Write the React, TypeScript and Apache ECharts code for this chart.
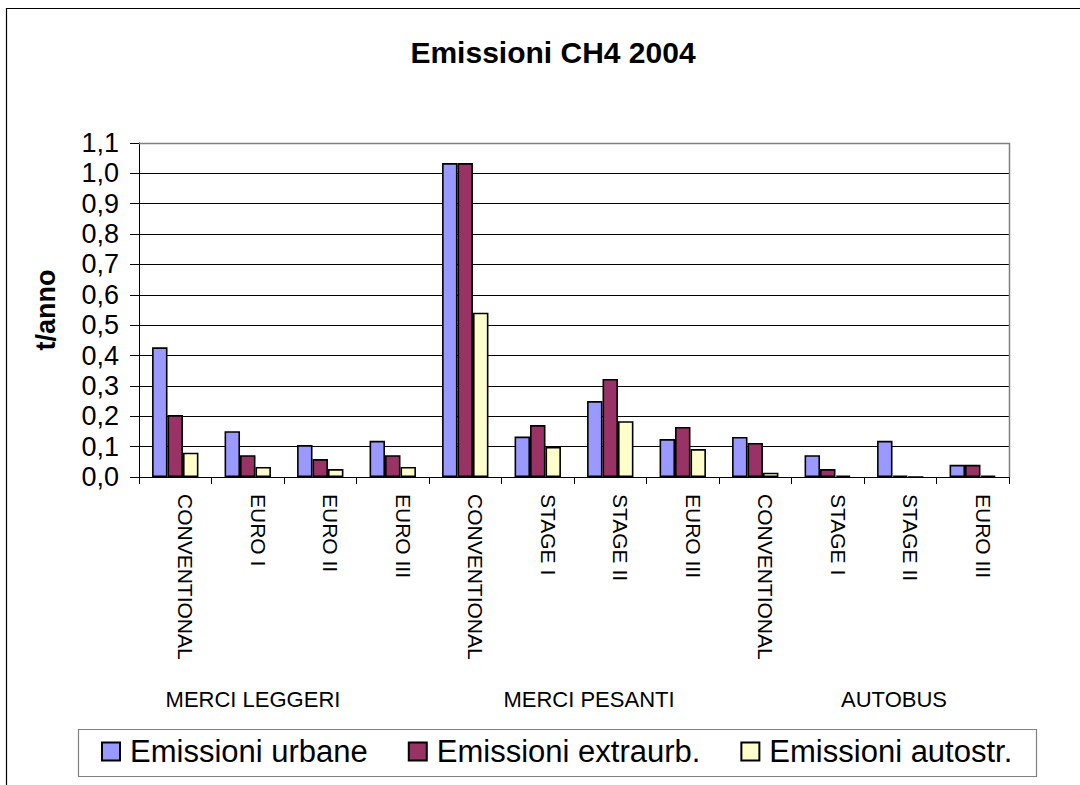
import React, { useEffect, useRef } from "react";
import * as echarts from "echarts";

const categories = [
  "CONVENTIONAL", "EURO I", "EURO II", "EURO III",
  "CONVENTIONAL", "STAGE I", "STAGE II", "EURO III",
  "CONVENTIONAL", "STAGE I", "STAGE II", "EURO III",
];
const groups = ["MERCI LEGGERI", "MERCI PESANTI", "AUTOBUS"];
const seriesNames = ["Emissioni urbane", "Emissioni extraurb.", "Emissioni autostr."];
const urbane = [0.427, 0.151, 0.105, 0.119, 1.034, 0.133, 0.25, 0.125, 0.132, 0.072, 0.119, 0.04];
const extraurb = [0.204, 0.072, 0.059, 0.072, 1.034, 0.171, 0.323, 0.165, 0.112, 0.026, 0.004, 0.04];
const autostr = [0.08, 0.033, 0.026, 0.033, 0.541, 0.099, 0.184, 0.092, 0.014, 0.005, 0.0, 0.004];
const colors = ["#9999FF", "#993366", "#FFFFCC"];

const FONT = "'Liberation Sans', Arial, sans-serif";

export default function App() {
  const ref = useRef<HTMLDivElement>(null);
  useEffect(() => {
    document.body.style.margin = "0";
    const chart = echarts.init(ref.current!, null, { renderer: "svg" });
    const values = [urbane, extraurb, autostr];
    chart.setOption({
      animation: false,
      backgroundColor: "#ffffff",
      textStyle: { fontFamily: FONT, color: "#000" },
      title: {
        text: "Emissioni CH4 2004",
        left: 548,
        textAlign: "center",
        top: 32,
        textStyle: { fontFamily: FONT, fontSize: 30, fontWeight: "bold", color: "#000" },
      },
      grid: { left: 139, top: 143, width: 870, height: 334, containLabel: false },
      legend: {
        left: 101,
        top: 736,
        padding: 0,
        itemWidth: 18,
        itemHeight: 18,
        itemGap: 40,
        icon: "rect",
        data: seriesNames,
        textStyle: { fontFamily: FONT, fontSize: 31, color: "#000", padding: [0, 0, 0, 5] },
      },
      xAxis: [
        {
          type: "category",
          data: categories,
          boundaryGap: true,
          axisLine: { show: true, lineStyle: { color: "#000", width: 1 } },
          axisTick: { show: true, inside: false, length: 7, alignWithLabel: false, lineStyle: { color: "#000" } },
          axisLabel: {
            interval: 0,
            rotate: -90,
            margin: 17,
            fontFamily: FONT,
            fontSize: 21,
            color: "#000",
            verticalAlign: "bottom",
          },
          splitLine: { show: false },
        },
        {
          type: "category",
          data: groups,
          position: "bottom",
          boundaryGap: true,
          axisLine: { show: false },
          axisTick: { show: false },
          splitLine: { show: false },
          axisLabel: {
            interval: 0,
            margin: 211,
            fontFamily: FONT,
            fontSize: 22,
            color: "#000",
            formatter: (v: string, i: number) => `{g${i}|${v}}`,
            rich: {
              g0: { fontFamily: FONT, fontSize: 22, color: "#000", padding: [0, 62, 0, 0] },
              g1: { fontFamily: FONT, fontSize: 22, color: "#000", padding: [0, 0, 0, 30] },
              g2: { fontFamily: FONT, fontSize: 22, color: "#000", padding: [0, 0, 0, 60] },
            },
          },
        },
      ],
      yAxis: {
        type: "value",
        min: 0,
        max: 1.1,
        interval: 0.1,
        name: "t/anno",
        nameLocation: "middle",
        nameGap: 80,
        nameTextStyle: { fontFamily: FONT, fontSize: 27, fontWeight: "bold", color: "#000" },
        axisLine: { show: true, lineStyle: { color: "#000", width: 1 } },
        axisTick: { show: true, inside: false, length: 9, lineStyle: { color: "#000" } },
        axisLabel: {
          margin: 20,
          fontFamily: FONT,
          fontSize: 27,
          color: "#000",
          formatter: (v: number) => v.toFixed(1).replace(".", ","),
        },
        splitLine: { show: true, lineStyle: { color: "#000", width: 1 } },
      },
      series: seriesNames.map((name, k) => ({
        name,
        type: "bar",
        data: values[k],
        barGap: "0%",
        barCategoryGap: "36%",
        itemStyle: { color: colors[k], borderColor: "#000", borderWidth: 1.6 },
      })),
      graphic: [
        {
          type: "polyline",
          z: 100,
          shape: { points: [[139, 143.5], [1009.5, 143.5], [1009.5, 477]] },
          style: { stroke: "#808080", lineWidth: 1.5, fill: null },
        },
        {
          type: "polyline",
          z: 100,
          shape: { points: [[6.5, 785], [6.5, 8.5], [1080, 8.5]] },
          style: { stroke: "#000", lineWidth: 1.2, fill: null },
        },
        {
          type: "rect",
          z: 100,
          shape: { x: 78.5, y: 729.5, width: 958, height: 47 },
          style: { stroke: "#808080", lineWidth: 1.2, fill: null },
        },
      ],
    });
    return () => chart.dispose();
  }, []);
  return <div ref={ref} style={{ width: 1080, height: 785 }} />;
}
